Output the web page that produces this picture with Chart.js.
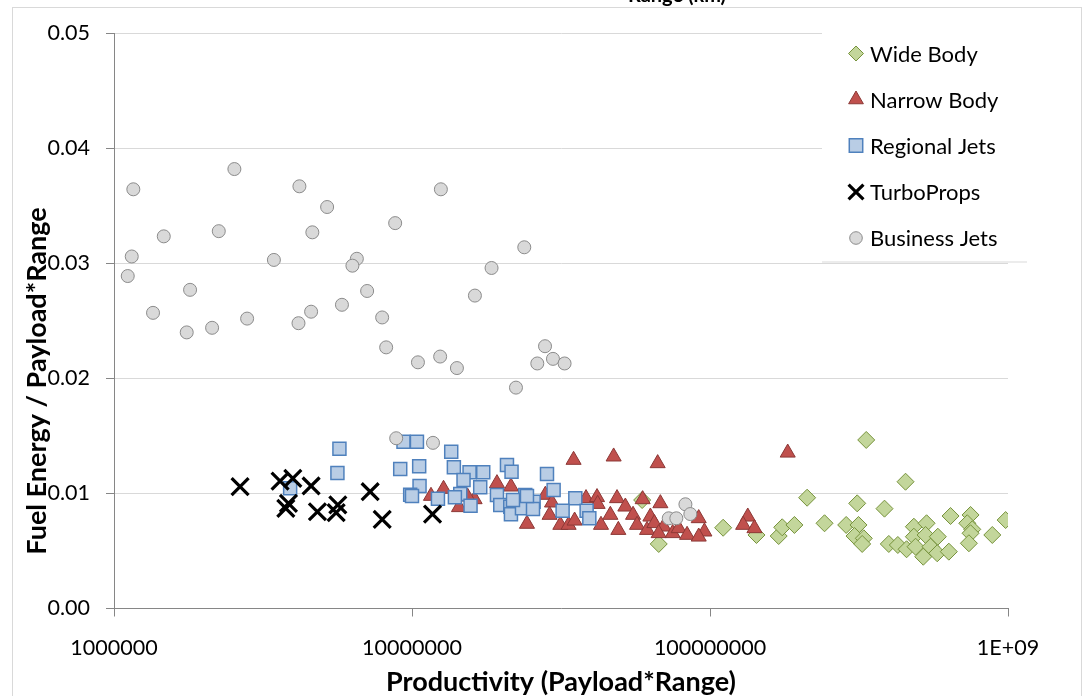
<!DOCTYPE html>
<html>
<head>
<meta charset="utf-8">
<script src="https://cdn.jsdelivr.net/npm/chart.js@4.4.0/dist/chart.umd.min.js"></script>
<style>
  html, body { margin: 0; padding: 0; background: #ffffff; }
  canvas { display: block; }
</style>
</head>
<body>
<canvas id="chart" width="1085" height="696"></canvas>
<script>
// Aircraft classes, each point is [productivity (payload*range), fuel energy / payload*range]
const seriesNames = ['Wide Body', 'Narrow Body', 'Regional Jets', 'TurboProps', 'Business Jets'];

const wideBody = [
  [6.73e7, 0.00561], [5.92e7, 0.00943], [1.107e8, 0.00702], [1.432e8, 0.00639], [1.70e8, 0.0063],
  [1.747e8, 0.00706], [1.92e8, 0.00726], [2.118e8, 0.00963], [2.423e8, 0.00741], [2.864e8, 0.00726],
  [3.119e8, 0.00914], [3.344e8, 0.01465], [3.15e8, 0.00726], [3.054e8, 0.0063], [3.282e8, 0.0061],
  [3.241e8, 0.00561], [3.851e8, 0.00868], [4.531e8, 0.01102], [3.981e8, 0.00561], [4.269e8, 0.00552],
  [4.567e8, 0.00515], [4.832e8, 0.00711], [4.832e8, 0.00624], [4.896e8, 0.00537], [5.33e8, 0.00741],
  [5.289e8, 0.00639], [5.196e8, 0.0045], [5.496e8, 0.00537], [5.815e8, 0.00624], [5.788e8, 0.0048],
  [6.331e8, 0.00494], [6.415e8, 0.00804], [7.488e8, 0.00813], [7.30e8, 0.00741], [7.587e8, 0.00688],
  [7.488e8, 0.00654], [7.392e8, 0.00567], [8.858e8, 0.00639], [9.817e8, 0.00769]
];

const narrowBody = [
  [1.158e7, 0.00978], [1.276e7, 0.01039], [1.438e7, 0.0088], [1.622e7, 0.00949], [1.536e7, 0.00972],
  [1.928e7, 0.01088], [2.148e7, 0.01059], [2.431e7, 0.00735], [2.801e7, 0.00987], [2.95e7, 0.0092],
  [2.895e7, 0.00813], [3.485e7, 0.01291], [4.75e7, 0.0132], [6.674e7, 0.01262], [3.146e7, 0.00726],
  [3.354e7, 0.00726], [3.513e7, 0.00763], [3.837e7, 0.00958], [4.177e7, 0.00967], [4.197e7, 0.00908],
  [4.308e7, 0.00726], [4.63e7, 0.00813], [4.875e7, 0.00958], [5.199e7, 0.00885], [4.925e7, 0.00682],
  [5.518e7, 0.00813], [5.691e7, 0.00726], [5.943e7, 0.00949], [6.149e7, 0.00682], [6.308e7, 0.00798],
  [6.815e7, 0.00914], [6.505e7, 0.00741], [6.99e7, 0.00711], [6.726e7, 0.00654], [7.493e7, 0.00654],
  [7.85e7, 0.00697], [8.377e7, 0.00639], [9.165e7, 0.00784], [9.576e7, 0.00668], [9.165e7, 0.00624],
  [1.339e8, 0.00798], [1.292e8, 0.00726], [1.41e8, 0.00697], [1.823e8, 0.01354]
];

const regionalJets = [
  [5.708e6, 0.01389], [5.62e6, 0.01178], [3.9e6, 0.01045], [9.13e6, 0.01213], [1.057e7, 0.01236],
  [9.364e6, 0.0145], [1.039e7, 0.0145], [1.06e7, 0.01065], [9.86e6, 0.00989], [1.0e7, 0.00978],
  [1.222e7, 0.00954], [1.354e7, 0.01363], [1.382e7, 0.01227], [1.56e7, 0.01184], [1.734e7, 0.01184],
  [1.489e7, 0.01117], [1.694e7, 0.01054], [1.452e7, 0.00995], [1.393e7, 0.00967], [1.572e7, 0.00894],
  [2.083e7, 0.01247], [2.158e7, 0.01189], [2.838e7, 0.01169], [2.987e7, 0.0103], [1.928e7, 0.00987],
  [1.978e7, 0.009], [2.137e7, 0.00885], [2.148e7, 0.00819], [2.399e7, 0.00987], [2.559e7, 0.00928],
  [2.339e7, 0.00871], [2.547e7, 0.00865], [2.182e7, 0.00943], [3.532e7, 0.00958], [3.202e7, 0.0085],
  [3.855e7, 0.0085], [3.936e7, 0.00784], [2.431e7, 0.00978]
];

const turboProps = [
  [2.649e6, 0.01059], [3.609e6, 0.01108], [3.982e6, 0.01132], [4.586e6, 0.01065], [3.849e6, 0.00914],
  [3.772e6, 0.00871], [4.815e6, 0.00841], [5.638e6, 0.0090], [5.565e6, 0.00833], [7.238e6, 0.01015],
  [7.943e6, 0.00775], [1.172e7, 0.00821]
];

const businessJets = [
  [1.161e6, 0.03644], [2.535e6, 0.0382], [4.19e6, 0.0367], [1.25e7, 0.03644], [5.19e6, 0.0349],
  [8.78e6, 0.0335], [1.469e6, 0.03235], [2.247e6, 0.0328], [4.63e6, 0.0327], [1.147e6, 0.0306],
  [3.44e6, 0.0303], [6.53e6, 0.0304], [6.31e6, 0.0298], [1.112e6, 0.0289], [1.80e6, 0.0277],
  [7.07e6, 0.0276], [1.352e6, 0.0257], [5.82e6, 0.0264], [4.586e6, 0.0258], [7.94e6, 0.0253],
  [2.797e6, 0.0252], [1.754e6, 0.024], [2.134e6, 0.0244], [4.16e6, 0.0248], [8.19e6, 0.0227],
  [1.047e7, 0.0214], [1.243e7, 0.0219], [2.381e7, 0.0314], [1.849e7, 0.0296], [1.626e7, 0.0272],
  [2.795e7, 0.0228], [1.415e7, 0.0209], [2.633e7, 0.0213], [2.972e7, 0.0217], [3.251e7, 0.0213],
  [2.233e7, 0.0192], [8.85e6, 0.0148], [1.176e7, 0.0144], [8.27e7, 0.00906], [8.59e7, 0.00821],
  [7.27e7, 0.00784], [7.71e7, 0.00784]
];

const xTickValues = [1e6, 1e7, 1e8, 1e9];
const xTickLabels = ['1000000', '10000000', '100000000', '1E+09'];
const yTickValues = [0, 0.01, 0.02, 0.03, 0.04, 0.05];
const yTickLabels = ['0.00', '0.01', '0.02', '0.03', '0.04', '0.05'];
const xAxisTitle = 'Productivity (Payload*Range)';
const yAxisTitle = 'Fuel Energy / Payload*Range';
const topTitle = 'Range (km)';

// Marker look for each class
const markerStyles = [
  { pointStyle: 'rectRot',  radius: 8.5, legendRadius: 7.5, fill: '#c3d69b', stroke: '#77933c', width: 1 },
  { pointStyle: 'triangle', radius: 8.7, legendRadius: 8.5, fill: '#c0504d', stroke: '#8c3836', width: 1 },
  { pointStyle: 'rect',     radius: 9.2, legendRadius: 9.5, fill: '#b9cde5', stroke: '#4f81bd', width: 1.5 },
  { pointStyle: 'crossRot', radius: 12, legendRadius: 10.5, fill: '#000000', stroke: '#000000', width: 3.2 },
  { pointStyle: 'circle',   radius: 6.5, legendRadius: 6.3, fill: '#d9d9d9', stroke: '#8c8c8c', width: 1 }
];

const seriesData = [wideBody, narrowBody, regionalJets, turboProps, businessJets];

const FONT = 'Lato, "Open Sans", "DejaVu Sans", sans-serif';
Chart.defaults.font.family = FONT;
Chart.defaults.color = '#000000';

function drawMarker(ctx, style, r, x, y) {
  ctx.save();
  ctx.fillStyle = style.fill;
  ctx.strokeStyle = style.stroke;
  ctx.lineWidth = style.width;
  ctx.beginPath();
  if (style.pointStyle === 'rectRot') {
    ctx.moveTo(x, y - r); ctx.lineTo(x + r, y); ctx.lineTo(x, y + r); ctx.lineTo(x - r, y); ctx.closePath();
    ctx.fill(); ctx.stroke();
  } else if (style.pointStyle === 'triangle') {
    const a = Math.PI * 2 / 3;
    ctx.moveTo(x, y - r);
    ctx.lineTo(x + Math.sin(a) * r, y - Math.cos(a) * r);
    ctx.lineTo(x + Math.sin(2 * a) * r, y - Math.cos(2 * a) * r);
    ctx.closePath(); ctx.fill(); ctx.stroke();
  } else if (style.pointStyle === 'rect') {
    const s = r * Math.SQRT1_2;
    ctx.rect(x - s, y - s, 2 * s, 2 * s); ctx.fill(); ctx.stroke();
  } else if (style.pointStyle === 'crossRot') {
    const s = r * Math.SQRT1_2;
    ctx.moveTo(x - s, y - s); ctx.lineTo(x + s, y + s);
    ctx.moveTo(x + s, y - s); ctx.lineTo(x - s, y + s);
    ctx.stroke();
  } else {
    ctx.arc(x, y, r, 0, Math.PI * 2); ctx.fill(); ctx.stroke();
  }
  ctx.restore();
}

// Page frame, cut-off heading, rotated y title and the in-plot legend
const decorations = {
  id: 'decorations',
  beforeDraw(chart) {
    const ctx = chart.ctx;
    ctx.save();
    ctx.fillStyle = '#ffffff';
    ctx.fillRect(0, 0, chart.width, chart.height);
    ctx.strokeStyle = '#d9d9d9';
    ctx.lineWidth = 1;
    ctx.strokeRect(12.5, 7.5, 1069, 720);
    ctx.fillStyle = '#000000';
    ctx.font = 'bold 20px ' + FONT;
    ctx.textAlign = 'center';
    ctx.textBaseline = 'alphabetic';
    ctx.fillText(topTitle, 677, 2);
    ctx.restore();
  },
  afterDraw(chart) {
    const ctx = chart.ctx;
    ctx.save();
    // y-axis title
    ctx.translate(37, 381);
    ctx.rotate(-Math.PI / 2);
    ctx.font = 'bold 27px ' + FONT;
    ctx.fillStyle = '#000000';
    ctx.textAlign = 'center';
    ctx.textBaseline = 'middle';
    ctx.fillText(yAxisTitle, 0, 0);
    ctx.restore();

    // legend box
    ctx.save();
    ctx.fillStyle = '#ffffff';
    ctx.fillRect(822, 24, 190, 237.5);
    ctx.strokeStyle = '#d9d9d9';
    ctx.lineWidth = 1;
    ctx.beginPath();
    ctx.moveTo(822, 262); ctx.lineTo(1027, 262);
    ctx.stroke();
    const rows = [53.5, 99.5, 145.5, 192, 238];
    ctx.font = '22px ' + FONT;
    ctx.fillStyle = '#000000';
    ctx.textAlign = 'left';
    ctx.textBaseline = 'middle';
    seriesNames.forEach((name, i) => {
      drawMarker(ctx, markerStyles[i], markerStyles[i].legendRadius, 856, rows[i]);
      ctx.fillStyle = '#000000';
      ctx.fillText(name, 870, rows[i] + 1);
    });
    ctx.restore();
  }
};

function labelFor(values, labels, v) {
  for (let i = 0; i < values.length; i++) {
    if (Math.abs(values[i] - v) <= Math.abs(values[i]) * 1e-9 + 1e-12) return labels[i];
  }
  return '';
}

const datasets = seriesData.map((arr, i) => ({
  label: seriesNames[i],
  data: arr.map(([x, y]) => ({ x, y })),
  showLine: false,
  pointStyle: markerStyles[i].pointStyle,
  pointRadius: markerStyles[i].radius,
  pointHoverRadius: markerStyles[i].radius,
  backgroundColor: markerStyles[i].fill,
  borderColor: markerStyles[i].stroke,
  borderWidth: markerStyles[i].width,
  order: seriesNames.length - i
}));

new Chart(document.getElementById('chart'), {
  type: 'scatter',
  data: { datasets },
  plugins: [decorations],
  options: {
    responsive: false,
    devicePixelRatio: 1,
    animation: false,
    layout: { padding: { top: 33.3, right: 77, bottom: 0, left: 0 } },
    plugins: { legend: { display: false }, tooltip: { enabled: false } },
    scales: {
      x: {
        type: 'logarithmic',
        min: xTickValues[0],
        max: xTickValues[xTickValues.length - 1],
        afterBuildTicks(scale) { scale.ticks = xTickValues.map(v => ({ value: v })); },
        afterFit(scale) { scale.height = 696 - 608.5; },
        ticks: {
          autoSkip: false, maxRotation: 0, padding: 19, color: '#000000',
          font: { size: 21.5 },
          callback: v => labelFor(xTickValues, xTickLabels, v)
        },
        grid: { drawOnChartArea: false, drawTicks: true, tickLength: 8, tickColor: '#868686' },
        border: { display: true, color: '#868686', width: 1 },
        title: {
          display: true, text: xAxisTitle, color: '#000000',
          font: { size: 27, weight: 'bold' }, padding: { top: 0, bottom: -2 }
        }
      },
      y: {
        type: 'linear',
        min: yTickValues[0],
        max: yTickValues[yTickValues.length - 1],
        afterBuildTicks(scale) { scale.ticks = yTickValues.map(v => ({ value: v })); },
        afterFit(scale) { scale.width = 114; },
        ticks: {
          padding: 16, color: '#000000', font: { size: 21.5 },
          callback: v => labelFor(yTickValues, yTickLabels, v)
        },
        grid: { color: '#d9d9d9', lineWidth: 1, drawTicks: true, tickLength: 8, tickColor: '#868686' },
        border: { display: true, color: '#868686', width: 1 }
      }
    }
  }
});
</script>
</body>
</html>
